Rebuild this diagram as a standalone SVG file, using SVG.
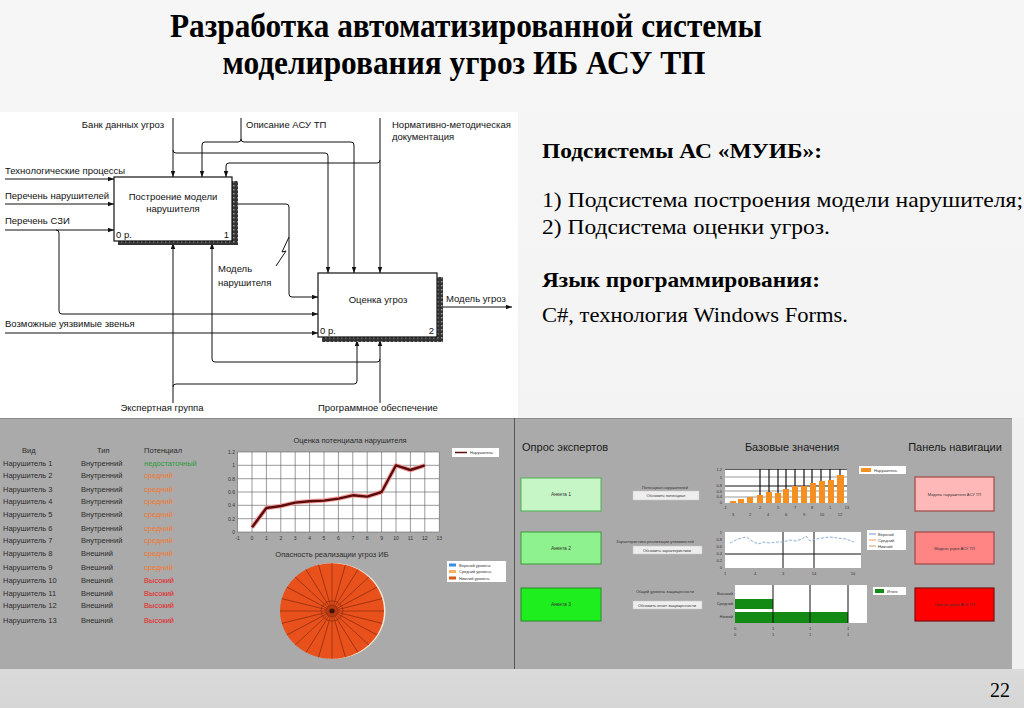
<svg xmlns="http://www.w3.org/2000/svg" width="1024" height="708" viewBox="0 0 1024 708">
<defs>
<linearGradient id="bg" x1="0" y1="0" x2="0" y2="1">
<stop offset="0" stop-color="#f6f6f6"/>
<stop offset="0.6" stop-color="#f3f3f3"/>
<stop offset="0.9" stop-color="#dedede"/>
<stop offset="1" stop-color="#d6d6d6"/>
</linearGradient>
<marker id="ar" viewBox="0 0 8 6" refX="8" refY="3" markerWidth="6" markerHeight="5" markerUnits="userSpaceOnUse" orient="auto">
<path d="M0,0 L8,3 L0,6 Z" fill="#111"/>
</marker>
<pattern id="hatch" width="4" height="4" patternUnits="userSpaceOnUse">
<rect width="4" height="4" fill="#333"/>
<rect x="1" y="1" width="1.5" height="1.5" fill="#999"/>
</pattern>
</defs>
<style>
.id{font-family:"Liberation Sans",Arial,sans-serif;font-size:9.5px;fill:#111}
.ttl{font-family:"Liberation Serif","Times New Roman",serif;font-weight:bold;font-size:34px;fill:#000}
.rb{font-family:"Liberation Serif","Times New Roman",serif;font-weight:bold;font-size:21px;fill:#000}
.rr{font-family:"Liberation Serif","Times New Roman",serif;font-size:21px;fill:#000}
.c{fill:none;stroke:#111;stroke-width:1}
.ca{fill:none;stroke:#111;stroke-width:1;marker-end:url(#ar)}
.box{fill:#fff;stroke:#111;stroke-width:1.2}
.tb{font-family:"Liberation Sans",Arial,sans-serif;font-size:7.5px;fill:#2a2a2a}
.ax{font-family:"Liberation Sans",Arial,sans-serif;font-size:5px;fill:#333}
.tiny{font-family:"Liberation Sans",Arial,sans-serif;font-size:4px;fill:#333}
.hd{font-family:"Liberation Sans",Arial,sans-serif;font-size:11px;fill:#1a1a1a}
.g{stroke:#555;stroke-width:0.6}
.bk{stroke:#111;stroke-width:1.2}
</style>
<rect width="1024" height="708" fill="url(#bg)"/>
<g id="title">
<text class="ttl" x="466" y="37" text-anchor="middle" textLength="592" lengthAdjust="spacingAndGlyphs">Разработка автоматизированной системы</text>
<text class="ttl" x="464" y="74" text-anchor="middle" textLength="483" lengthAdjust="spacingAndGlyphs">моделирования угроз ИБ АСУ ТП</text>
</g>
<rect id="idef0-bg" x="0" y="112" width="518" height="306" fill="#ffffff"/>
<g id="connectors">
<path class="ca" d="M5,179 H114"/>
<path class="ca" d="M5,204 H114"/>
<path class="ca" d="M5,230 H114"/>
<path class="ca" d="M56,230 Q59,230 59,233 V311 Q59,314 62,314 H318"/>
<path class="ca" d="M5,333 H318"/>
<path class="ca" d="M173,118 V177"/>
<path class="ca" d="M173,150 Q173,153 176,153 H325 Q328,153 328,156 V273"/>
<path class="c" d="M241,118 V139"/>
<path class="ca" d="M241,139 Q241,142 238,142 H205 Q202,142 202,145 V177"/>
<path class="ca" d="M241,139 Q241,142 244,142 H351 Q354,142 354,145 V273"/>
<path class="ca" d="M380,118 V273"/>
<path class="ca" d="M380,160 Q380,163 377,163 H229 Q226,163 226,166 V177"/>
<path class="ca" d="M238,204 H286 Q289,204 289,207 V294 Q289,297 292,297 H318"/>
<path class="c" d="M289,237 L282,252 L286,251 L276,266"/>
<path class="ca" d="M443,307 H512"/>
<path class="ca" d="M173,403 V243"/>
<path class="ca" d="M173,387 Q173,384 176,384 H354 Q357,384 357,381 V340"/>
<path class="ca" d="M380,403 V340"/>
<path class="ca" d="M380,359 Q380,362 377,362 H215 Q212,362 212,359 V243"/>
</g>
<g id="box1">
<rect x="118" y="181" width="120" height="64" fill="url(#hatch)"/>
<rect class="box" x="114" y="177" width="118" height="64"/>
<text class="id" x="173" y="200" text-anchor="middle">Построение модели</text>
<text class="id" x="173" y="212" text-anchor="middle">нарушителя</text>
<text class="id" x="116" y="238" font-size="8">0 р.</text>
<text class="id" x="229" y="238" font-size="8" text-anchor="end">1</text>
</g>
<g id="box2">
<rect x="322" y="277" width="121" height="65" fill="url(#hatch)"/>
<rect class="box" x="318" y="273" width="119" height="64"/>
<text class="id" x="378" y="303" text-anchor="middle">Оценка угроз</text>
<text class="id" x="320" y="334" font-size="8">0 р.</text>
<text class="id" x="434" y="334" font-size="8" text-anchor="end">2</text>
</g>
<g id="idef0-labels">
<text class="id" x="164" y="128" text-anchor="end">Банк данных угроз</text>
<text class="id" x="246" y="128">Описание АСУ ТП</text>
<text class="id" x="392" y="128">Нормативно-методическая</text>
<text class="id" x="392" y="140">документация</text>
<text class="id" x="5" y="174">Технологические процессы</text>
<text class="id" x="5" y="199">Перечень нарушителей</text>
<text class="id" x="5" y="224">Перечень СЗИ</text>
<text class="id" x="218" y="272">Модель</text>
<text class="id" x="218" y="286">нарушителя</text>
<text class="id" x="5" y="327">Возможные уязвимые звенья</text>
<text class="id" x="446" y="302">Модель угроз</text>
<text class="id" x="162" y="411" text-anchor="middle">Экспертная группа</text>
<text class="id" x="318" y="411">Программное обеспечение</text>
</g>
<g id="subsystems">
<text class="rb" x="542" y="158" textLength="280" lengthAdjust="spacingAndGlyphs">Подсистемы АС «МУИБ»:</text>
<text class="rr" x="542" y="207" textLength="481" lengthAdjust="spacingAndGlyphs">1) Подсистема построения модели нарушителя;</text>
<text class="rr" x="542" y="234" textLength="288" lengthAdjust="spacingAndGlyphs">2) Подсистема оценки угроз.</text>
<text class="rb" x="542" y="287" textLength="278" lengthAdjust="spacingAndGlyphs">Язык программирования:</text>
<text class="rr" x="542" y="322" textLength="306" lengthAdjust="spacingAndGlyphs">C#, технология Windows Forms.</text>
</g>
<g id="screens">
<rect x="0" y="418" width="1012" height="251" fill="#aaaaaa"/>
<rect x="1012" y="418" width="12" height="251" fill="#f0f0f0"/>
<line x1="0" y1="418.5" x2="1012" y2="418.5" stroke="#8a8a8a"/>
<line x1="514.5" y1="418" x2="514.5" y2="669" stroke="#555"/>
</g>
<g id="violators-table">
<text class="tb" x="22" y="453" fill="#333">Вид</text>
<text class="tb" x="97" y="453">Тип</text>
<text class="tb" x="144" y="453">Потенциал</text>
<g class="tb">
<text x="3" y="466">Нарушитель 1</text><text x="81" y="466">Внутренний</text>
<text x="3" y="478">Нарушитель 2</text><text x="81" y="478">Внутренний</text>
<text x="3" y="492">Нарушитель 3</text><text x="81" y="492">Внутренний</text>
<text x="3" y="504">Нарушитель 4</text><text x="81" y="504">Внутренний</text>
<text x="3" y="517">Нарушитель 5</text><text x="81" y="517">Внутренний</text>
<text x="3" y="531">Нарушитель 6</text><text x="81" y="531">Внутренний</text>
<text x="3" y="543">Нарушитель 7</text><text x="81" y="543">Внутренний</text>
<text x="3" y="556">Нарушитель 8</text><text x="81" y="556">Внешний</text>
<text x="3" y="570">Нарушитель 9</text><text x="81" y="570">Внешний</text>
<text x="3" y="583">Нарушитель 10</text><text x="81" y="583">Внешний</text>
<text x="3" y="596">Нарушитель 11</text><text x="81" y="596">Внешний</text>
<text x="3" y="608">Нарушитель 12</text><text x="81" y="608">Внешний</text>
<text x="3" y="623">Нарушитель 13</text><text x="81" y="623">Внешний</text>
</g>
<g class="tb">
<text x="144" y="466" fill="#2f9a3a">недостаточный</text>
<text x="144" y="478" fill="#f07830">средний</text>
<text x="144" y="492" fill="#f07830">средний</text>
<text x="144" y="504" fill="#f07830">средний</text>
<text x="144" y="517" fill="#f07830">средний</text>
<text x="144" y="531" fill="#f07830">средний</text>
<text x="144" y="543" fill="#f07830">средний</text>
<text x="144" y="556" fill="#f07830">средний</text>
<text x="144" y="570" fill="#f07830">средний</text>
<text x="144" y="583" fill="#e52222">Высокий</text>
<text x="144" y="596" fill="#e52222">Высокий</text>
<text x="144" y="608" fill="#e52222">Высокий</text>
<text x="144" y="623" fill="#e52222">Высокий</text>
</g>
</g>
<g id="potential-chart">
<text class="tb" x="350" y="443" text-anchor="middle">Оценка потенциала нарушителя</text>
<rect x="237.6" y="452" width="201.6" height="80" fill="#fff" stroke="#666" stroke-width="0.6"/>
<g class="g">
<line x1="252" y1="452" x2="252" y2="532"/><line x1="266.4" y1="452" x2="266.4" y2="532"/><line x1="280.8" y1="452" x2="280.8" y2="532"/><line x1="295.2" y1="452" x2="295.2" y2="532"/><line x1="309.6" y1="452" x2="309.6" y2="532"/><line x1="324" y1="452" x2="324" y2="532"/><line x1="338.4" y1="452" x2="338.4" y2="532"/><line x1="352.8" y1="452" x2="352.8" y2="532"/><line x1="367.2" y1="452" x2="367.2" y2="532"/><line x1="381.6" y1="452" x2="381.6" y2="532"/><line x1="396" y1="452" x2="396" y2="532"/><line x1="410.4" y1="452" x2="410.4" y2="532"/><line x1="424.8" y1="452" x2="424.8" y2="532"/>
<line x1="237.6" y1="465.3" x2="439.2" y2="465.3"/><line x1="237.6" y1="478.7" x2="439.2" y2="478.7"/><line x1="237.6" y1="492" x2="439.2" y2="492"/><line x1="237.6" y1="505.3" x2="439.2" y2="505.3"/><line x1="237.6" y1="518.7" x2="439.2" y2="518.7"/>
</g>
<polyline points="252,527.3 266.4,508 280.8,506 295.2,502.6 309.6,501.3 324,500.6 338.4,498.6 352.8,495.3 367.2,496.6 381.6,492 396,465.3 410.4,470 424.8,465.3" fill="none" stroke="#f4a0a0" stroke-width="4.5" stroke-linejoin="round"/>
<polyline points="252,527.3 266.4,508 280.8,506 295.2,502.6 309.6,501.3 324,500.6 338.4,498.6 352.8,495.3 367.2,496.6 381.6,492 396,465.3 410.4,470 424.8,465.3" fill="none" stroke="#5a0c0c" stroke-width="2.4" stroke-linejoin="round"/>
<g class="ax" text-anchor="end">
<text x="235" y="454">1.2</text><text x="235" y="467">1</text><text x="235" y="481">0.8</text><text x="235" y="494">0.6</text><text x="235" y="507">0.4</text><text x="235" y="521">0.2</text><text x="235" y="534">0</text>
</g>
<g class="ax" text-anchor="middle">
<text x="237.6" y="540">-1</text><text x="252" y="540">0</text><text x="266.4" y="540">1</text><text x="280.8" y="540">2</text><text x="295.2" y="540">3</text><text x="309.6" y="540">4</text><text x="324" y="540">5</text><text x="338.4" y="540">6</text><text x="352.8" y="540">7</text><text x="367.2" y="540">8</text><text x="381.6" y="540">9</text><text x="396" y="540">10</text><text x="410.4" y="540">11</text><text x="424.8" y="540">12</text><text x="439.2" y="540">13</text>
</g>
<rect x="452" y="448" width="47" height="9" fill="#fff"/>
<line x1="455" y1="452.5" x2="467" y2="452.5" stroke="#5a0c0c" stroke-width="1.5"/>
<text class="tiny" x="470" y="454">Нарушитель</text>
</g>
<g id="threat-chart">
<text class="tb" x="332" y="557" text-anchor="middle">Опасность реализации угроз ИБ</text>
<ellipse cx="333.5" cy="611" rx="52" ry="48" fill="#f8e8d8"/>
<g transform="translate(332,611) scale(1,0.92)">
<circle r="52" fill="#e8501c"/>
<g stroke="#8a2a0c" stroke-width="0.7">
<line x1="-52" y1="0" x2="52" y2="0"/>
<line x1="-52" y1="0" x2="52" y2="0" transform="rotate(15)"/>
<line x1="-52" y1="0" x2="52" y2="0" transform="rotate(30)"/>
<line x1="-52" y1="0" x2="52" y2="0" transform="rotate(45)"/>
<line x1="-52" y1="0" x2="52" y2="0" transform="rotate(60)"/>
<line x1="-52" y1="0" x2="52" y2="0" transform="rotate(75)"/>
<line x1="-52" y1="0" x2="52" y2="0" transform="rotate(90)"/>
<line x1="-52" y1="0" x2="52" y2="0" transform="rotate(105)"/>
<line x1="-52" y1="0" x2="52" y2="0" transform="rotate(120)"/>
<line x1="-52" y1="0" x2="52" y2="0" transform="rotate(135)"/>
<line x1="-52" y1="0" x2="52" y2="0" transform="rotate(150)"/>
<line x1="-52" y1="0" x2="52" y2="0" transform="rotate(165)"/>
</g>
<circle r="11" fill="none" stroke="#8a2a0c" stroke-width="0.7"/>
<circle r="6" fill="none" stroke="#8a2a0c" stroke-width="0.7"/>
<circle r="2.5" fill="#3a1005"/>
</g>
<rect x="447" y="561" width="59" height="21" fill="#fff"/>
<rect x="449" y="563.5" width="7" height="3" fill="#3a8ee0"/><text class="tiny" x="459" y="566.5">Верхний уровень</text>
<rect x="449" y="570" width="7" height="3" fill="#f8b060"/><text class="tiny" x="459" y="573">Средний уровень</text>
<rect x="449" y="576.5" width="7" height="3" fill="#d85a18"/><text class="tiny" x="459" y="579.5">Нижний уровень</text>
</g>
<g id="headers">
<text class="hd" x="522" y="451">Опрос экспертов</text>
<text class="hd" x="792" y="451" text-anchor="middle">Базовые значения</text>
<text class="hd" x="955" y="451" text-anchor="middle">Панель навигации</text>
</g>
<g id="survey-buttons">
<rect x="521" y="478" width="80" height="33" fill="#c6f6c6" stroke="#4caf50" stroke-width="1"/>
<text class="ax" x="561" y="496" text-anchor="middle">Анкета 1</text>
<rect x="521" y="532" width="80" height="32" fill="#8ef28e" stroke="#3a9a3a" stroke-width="1"/>
<text class="ax" x="561" y="550" text-anchor="middle">Анкета 2</text>
<rect x="521" y="588" width="80" height="33" fill="#1eee1e" stroke="#2a8a2a" stroke-width="1"/>
<text class="ax" x="561" y="606" text-anchor="middle">Анкета 3</text>
</g>
<g id="update-buttons">
<text class="tiny" x="665" y="489" text-anchor="middle">Потенциал нарушителей</text>
<rect x="633" y="491" width="66" height="9" fill="#eeeeee" stroke="#c8c8c8" stroke-width="0.5"/>
<text class="tiny" x="666" y="497" text-anchor="middle">Обновить потенциал</text>
<text class="tiny" x="655" y="543" text-anchor="middle">Характеристика реализации уязвимостей</text>
<rect x="633" y="546" width="69" height="8" fill="#eeeeee" stroke="#c8c8c8" stroke-width="0.5"/>
<text class="tiny" x="667" y="551.5" text-anchor="middle">Обновить характеристики</text>
<text class="tiny" x="665" y="593" text-anchor="middle">Общий уровень защищенности</text>
<rect x="633" y="601" width="69" height="8" fill="#eeeeee" stroke="#c8c8c8" stroke-width="0.5"/>
<text class="tiny" x="667" y="606.5" text-anchor="middle">Обновить отчет защищенности</text>
</g>
<g id="base-bar-chart">
<rect x="725" y="469" width="122" height="34" fill="#fff"/>
<g class="g" stroke-width="0.5">
<line x1="725" y1="477" x2="847" y2="477"/><line x1="725" y1="491" x2="847" y2="491"/><line x1="725" y1="497" x2="847" y2="497"/>
</g>
<line x1="725" y1="469.5" x2="847" y2="469.5" stroke="#333" stroke-width="0.8"/>
<line x1="725" y1="486" x2="847" y2="486" stroke="#111" stroke-width="1"/>
<g class="bk" stroke-width="1">
<line x1="760" y1="469" x2="760" y2="495"/><line x1="769" y1="469" x2="769" y2="492"/><line x1="778" y1="469" x2="778" y2="493"/><line x1="786" y1="469" x2="786" y2="489"/><line x1="795" y1="469" x2="795" y2="486"/><line x1="804" y1="469" x2="804" y2="486"/><line x1="812" y1="469" x2="812" y2="483"/><line x1="821" y1="469" x2="821" y2="481"/><line x1="830" y1="469" x2="830" y2="480"/><line x1="840" y1="469" x2="840" y2="475"/>
</g>
<g fill="#f59020">
<rect x="730" y="501" width="6" height="2"/><rect x="738" y="499" width="6" height="4"/><rect x="747" y="497" width="6" height="6"/><rect x="757" y="495" width="6" height="8"/><rect x="766" y="492" width="6" height="11"/><rect x="775" y="493" width="6" height="10"/><rect x="783" y="489" width="6" height="14"/><rect x="792" y="486" width="6" height="17"/><rect x="801" y="486" width="6" height="17"/><rect x="810" y="483" width="6" height="20"/><rect x="819" y="481" width="6" height="22"/><rect x="828" y="480" width="6" height="23"/><rect x="837" y="475" width="7" height="28"/>
</g>
<g class="tiny" text-anchor="end">
<text x="722" y="471">1.2</text><text x="722" y="479">1</text><text x="722" y="487">0.8</text><text x="722" y="493">0.6</text><text x="722" y="498">0.4</text><text x="722" y="504">0</text>
</g>
<g class="tiny" text-anchor="middle">
<text x="725" y="509">-1</text><text x="760" y="509">2</text><text x="778" y="509">5</text><text x="795" y="509">7</text><text x="812" y="509">8</text><text x="830" y="509">1</text><text x="847" y="509">13</text>
<text x="733" y="516">3</text><text x="750" y="516">2</text><text x="768" y="516">4</text><text x="786" y="516">6</text><text x="804" y="516">9</text><text x="822" y="516">10</text><text x="840" y="516">12</text>
</g>
<rect x="859" y="466" width="47" height="8" fill="#fff"/>
<rect x="861" y="468" width="10" height="4" fill="#f59020"/>
<text class="tiny" x="874" y="471.5">Нарушитель</text>
</g>
<g id="base-line-chart">
<rect x="725" y="532" width="136" height="36" fill="#fff"/>
<line x1="725" y1="554" x2="861" y2="554" stroke="#111" stroke-width="1"/>
<line x1="783" y1="532" x2="783" y2="568" stroke="#111" stroke-width="1"/>
<line x1="814" y1="532" x2="814" y2="568" stroke="#111" stroke-width="1"/>
<polyline points="730,543 738,539 746,537 752,541 758,544 764,542 770,543 776,542 783,542 790,540 796,541 802,539 806,536 810,541 816,539 822,538 830,537 838,538 846,539 854,542" fill="none" stroke="#8fb0d8" stroke-width="1" stroke-dasharray="3 1.5"/>
<g class="tiny" text-anchor="end">
<text x="722" y="534">1</text><text x="722" y="541">0.8</text><text x="722" y="548">0.6</text><text x="722" y="555">0.4</text><text x="722" y="562">0.2</text><text x="722" y="569">0</text>
</g>
<g class="tiny" text-anchor="middle">
<text x="725" y="575">1</text><text x="755" y="575">4</text><text x="783" y="575">3</text><text x="814" y="575">14</text><text x="853" y="575">10</text>
</g>
<rect x="867" y="530" width="39" height="20" fill="#fff"/>
<line x1="869" y1="534" x2="876" y2="534" stroke="#6a9ad0"/><text class="tiny" x="878" y="535.5">Верхний</text>
<line x1="869" y1="540" x2="876" y2="540" stroke="#f0a050"/><text class="tiny" x="878" y="541.5">Средний</text>
<line x1="869" y1="546" x2="876" y2="546" stroke="#c8a070"/><text class="tiny" x="878" y="547.5">Нижний</text>
</g>
<g id="base-hbar-chart">
<rect x="735" y="585" width="132" height="38" fill="#fff"/>
<rect x="735" y="599" width="38" height="10" fill="#138a13"/>
<rect x="735" y="612" width="113" height="11" fill="#138a13"/>
<line x1="773" y1="585" x2="773" y2="623" stroke="#111" stroke-width="1"/>
<line x1="810" y1="585" x2="810" y2="623" stroke="#111" stroke-width="1"/>
<line x1="848" y1="585" x2="848" y2="623" stroke="#111" stroke-width="1"/>
<g class="tiny" text-anchor="end">
<text x="733" y="595">Высокий</text><text x="733" y="605">Средний</text><text x="733" y="618">Низкий</text>
</g>
<g class="tiny" text-anchor="middle">
<text x="735" y="630">0</text><text x="773" y="630">1</text><text x="810" y="630">1</text><text x="848" y="630">1</text>
<text x="735" y="636">0</text><text x="773" y="636">1</text><text x="810" y="636">1</text><text x="848" y="636">1</text>
</g>
<rect x="873" y="587" width="33" height="8" fill="#fff"/>
<rect x="875" y="589" width="9" height="4" fill="#138a13"/>
<text class="tiny" x="887" y="592.5">Итого</text>
</g>
<g id="nav-buttons">
<rect x="915" y="477" width="79" height="34" fill="#ffb8b8" stroke="#a04848" stroke-width="1.2"/>
<text class="tiny" x="954.5" y="495.5" text-anchor="middle">Модель нарушителя АСУ ТП</text>
<rect x="915" y="532" width="79" height="32" fill="#ff8585" stroke="#a04848" stroke-width="1.2"/>
<text class="tiny" x="954.5" y="549.5" text-anchor="middle">Модель угроз АСУ ТП</text>
<rect x="915" y="588" width="79" height="33" fill="#ff0000" stroke="#7a1010" stroke-width="1.2"/>
<text class="tiny" x="954.5" y="606" text-anchor="middle">Оценка угроз АСУ ТП</text>
</g>
<text id="page-num" x="1010" y="697" text-anchor="end" font-family="Liberation Serif,'Times New Roman',serif" font-size="20" fill="#000">22</text>
</svg>
